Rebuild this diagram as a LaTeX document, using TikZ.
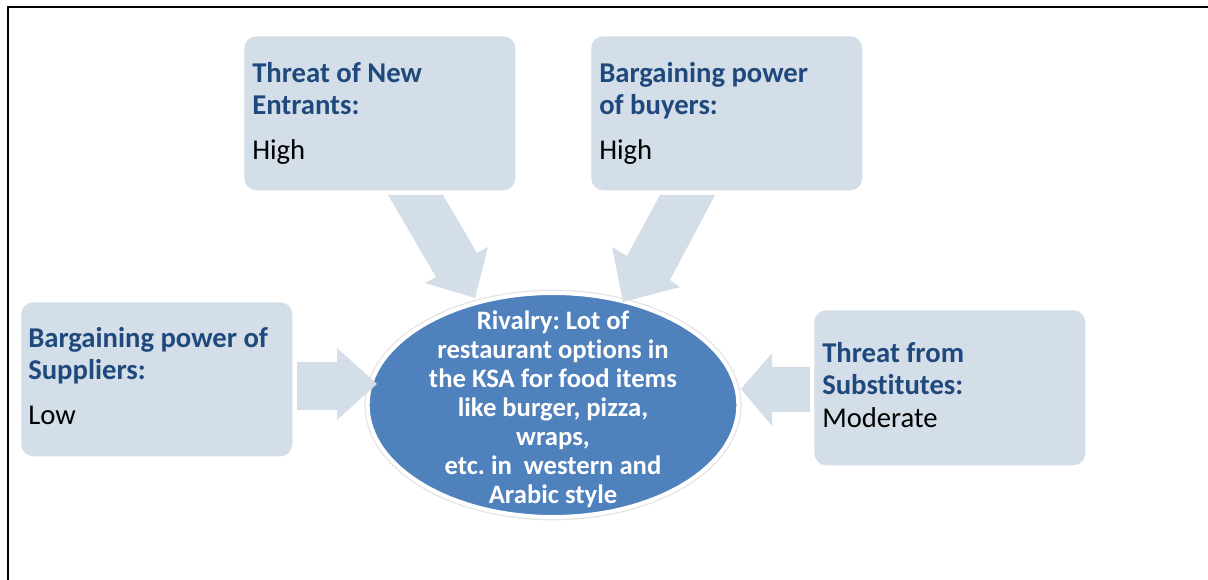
\documentclass[tikz,border=0pt]{standalone}
\usepackage{fontspec}
\setmainfont{Carlito}[Ligatures=NoCommon]
\usetikzlibrary{shapes.geometric}
\definecolor{titleblue}{RGB}{31,73,125}
\definecolor{boxfill}{RGB}{211,222,232}
\definecolor{rivalfill}{RGB}{79,129,189}
\frenchspacing
\tikzset{
 factor/.style={rectangle,rounded corners=9pt,fill=boxfill,anchor=north west,
   minimum width=203.25pt,minimum height=115.5pt,inner sep=0pt},
 head/.style={anchor=base west,inner sep=0pt,text=titleblue,align=left,
   font=\fontsize{21.5}{24}\selectfont\bfseries},
 level/.style={anchor=base west,inner sep=0pt,font=\fontsize{21.5}{24}\selectfont},
 blockarrow/.style={fill=boxfill},
}
\begin{document}
\begin{tikzpicture}[x=0.75pt,y=-0.75pt]
 \useasboundingbox (0,0) rectangle (1208,580);
 \draw[line width=1.3pt] (8,580)--(8,7)--(1208,7);
 % the four forces
 \node[factor] (entrants) at (244,36) {};
 \node[factor] (buyers) at (591,36) {};
 \node[factor] (suppliers) at (21,302) {};
 \node[factor,minimum height=116.25pt] (substitutes) at (814,310) {};
 \node[head] (entrantsT) at (252,115) {Threat of New\\Entrants:};
 \node[level] (entrantsV) at (252,160) {High};
 \node[head] (buyersT) at (599,115) {Bargaining power\\of buyers:};
 \node[level] (buyersV) at (599,160) {High};
 \node[head] (suppliersT) at (28,380) {Bargaining power of\\Suppliers:};
 \node[level] (suppliersV) at (28,425) {Low};
 \node[head] (substitutesT) at (822,395) {Threat from\\Substitutes:};
 \node[level] (substitutesV) at (822,428) {Moderate};
 % rivalry in the middle
 \node[ellipse,fill=rivalfill,draw=white,line width=3pt,
   preaction={draw=black!10,line width=5pt},
   minimum width=278pt,minimum height=168pt,inner sep=0pt] (rivalry) at (553,405) {};
 \node[text=white,align=center,inner sep=0pt,
   font=\fontsize{20}{21.75}\selectfont\bfseries] (rivalryT) at (553,409)
   {Rivalry: Lot of\\restaurant options in\\the KSA for food items\\like burger, pizza,\\wraps,\\etc. in~ western and\\Arabic style};
 \fill[blockarrow] (388,195)--(443,195)--(477,253)--(488,247)--(475,298)--(425,283)--(436,277)--cycle;
 \fill[blockarrow] (660,195)--(715,195)--(670,280)--(680,287)--(623,302)--(612,247)--(627,256)--cycle;
 \fill[blockarrow] (297,362)--(337,362)--(337,348)--(377,384)--(337,420)--(337,410)--(297,410)--cycle;
 \fill[blockarrow] (810,367)--(772,367)--(772,353)--(741,389)--(772,426)--(772,412)--(810,412)--cycle;
\end{tikzpicture}
\end{document}
